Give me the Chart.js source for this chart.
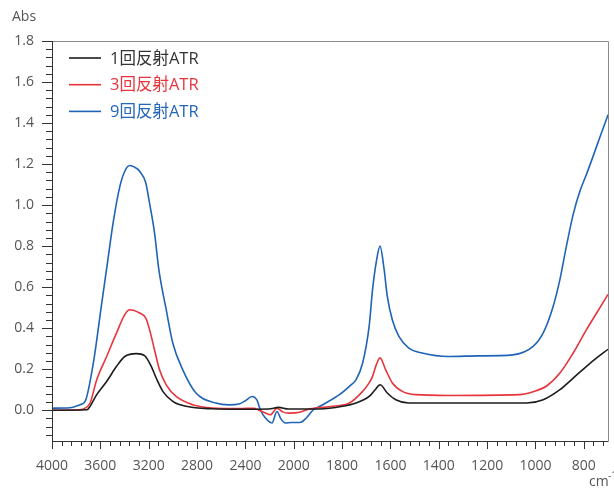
<!DOCTYPE html>
<html>
<head>
<meta charset="utf-8">
<script src="https://cdn.jsdelivr.net/npm/chart.js@4"></script>
<style>
  body { margin: 0; background: #fff; }
  canvas { display: block; }
</style>
</head>
<body>
<canvas id="chart" width="614" height="488"></canvas>
<script>
// IR spectra, absorbance vs wavenumber (cm-1), scale doubles below 2000

const seriesNames = ['1回反射ATR', '3回反射ATR', '9回反射ATR'];
const seriesColors = ['#1c1c1c', '#e8353c', '#1f64b6'];
const labelColors = ['#333333', '#e8353c', '#2466b8'];

const wnBlack = [4000, 3710, 3685, 3630, 3548, 3466, 3398, 3302, 3234, 3179, 3138, 3083, 3001, 2891, 2675, 2453,
  2207, 2125, 2043, 1893, 1798, 1742, 1688, 1663, 1643, 1613, 1578, 1524, 1359, 1037, 968, 899, 844, 789, 747, 700];
const absBlack = [0.0, 0.002, 0.019, 0.076, 0.14, 0.214, 0.262, 0.276, 0.266, 0.214, 0.157, 0.092, 0.043, 0.019, 0.007, 0.005,
  0.006, 0.014, 0.006, 0.006, 0.019, 0.035, 0.067, 0.1, 0.124, 0.084, 0.051, 0.035, 0.035, 0.035, 0.051, 0.1, 0.157, 0.214, 0.255, 0.297];

const wnRed = [4000, 3768, 3726, 3685, 3630, 3548, 3466, 3398, 3357, 3275, 3225, 3193, 3152, 3111, 3055, 2973, 2837, 2673, 2453,
  2330, 2289, 2240, 2193, 2139, 2092, 2043, 1975, 1934, 1838, 1770, 1715, 1688, 1674, 1659, 1643, 1620, 1592, 1551, 1496, 1359,
  1065, 1010, 954, 899, 844, 789, 747, 700];
const absRed = [0.0, 0.002, 0.01, 0.035, 0.149, 0.262, 0.377, 0.466, 0.49, 0.474, 0.45, 0.393, 0.295, 0.198, 0.124, 0.067, 0.027, 0.011, 0.008,
  0.01, 0.0, -0.012, -0.022, 0.01, -0.008, -0.014, -0.01, 0.006, 0.019, 0.035, 0.092, 0.133, 0.165, 0.22, 0.255, 0.198, 0.133, 0.092, 0.076, 0.072,
  0.076, 0.09, 0.118, 0.181, 0.279, 0.393, 0.474, 0.565];

const wnBlue = [4000, 3850, 3768, 3726, 3658, 3589, 3548, 3494, 3439, 3398, 3357, 3316, 3275, 3225, 3193, 3152, 3116, 3055, 3001,
  2919, 2809, 2645, 2535, 2453, 2404, 2344, 2305, 2275, 2234, 2180, 2139, 2108, 2070, 2018, 1975, 1948, 1921, 1880, 1811, 1763,
  1742, 1715, 1688, 1674, 1659, 1643, 1626, 1613, 1592, 1565, 1524, 1469, 1359, 1236, 1094, 1010, 968, 927, 899, 872, 844, 817,
  789, 761, 734, 706, 700];
const absBlue = [0.01, 0.012, 0.027, 0.043, 0.23, 0.52, 0.69, 0.915, 1.09, 1.165, 1.193, 1.185, 1.165, 1.11, 1.01, 0.866, 0.685, 0.49, 0.328,
  0.198, 0.084, 0.035, 0.026, 0.03, 0.045, 0.067, 0.05, 0.0, -0.038, -0.062, -0.006, -0.04, -0.062, -0.06, -0.06, -0.038, 0.0, 0.027, 0.076, 0.124,
  0.149, 0.23, 0.41, 0.588, 0.72, 0.80, 0.685, 0.555, 0.44, 0.36, 0.303, 0.279, 0.262, 0.265, 0.27, 0.311, 0.377, 0.506, 0.637, 0.80, 0.955, 1.065,
  1.15, 1.24, 1.33, 1.42, 1.44];

const xTickLabels = [4000, 3600, 3200, 2800, 2400, 2000, 1800, 1600, 1400, 1200, 1000, 800];
const yTickLabels = [0.0, 0.2, 0.4, 0.6, 0.8, 1.0, 1.2, 1.4, 1.6, 1.8];

// 400 cm-1 per unit above 2000, 200 cm-1 per unit below
function toAxis(w) {
  return w >= 2000 ? (4000 - w) / 400 : 5 + (2000 - w) / 200;
}

function points(wn, abs) {
  return wn.map((w, i) => ({ x: toAxis(w), y: abs[i] }));
}

const tickFont = { family: 'Open Sans', size: 14 };

const framePlugin = {
  id: 'frame',
  afterDraw(chart) {
    const ctx = chart.ctx;
    const a = chart.chartArea;
    const xs = chart.scales.x, ys = chart.scales.y;
    ctx.save();
    // top and right frame
    ctx.strokeStyle = '#8a8a8a';
    ctx.lineWidth = 1;
    ctx.beginPath();
    ctx.moveTo(a.left, a.top + 0.5);
    ctx.lineTo(a.right + 0.5, a.top + 0.5);
    ctx.lineTo(a.right + 0.5, a.bottom);
    ctx.stroke();

    // axes and tick marks
    ctx.strokeStyle = '#333';
    ctx.beginPath();
    ctx.moveTo(a.left + 0.5, a.top);
    ctx.lineTo(a.left + 0.5, a.bottom + 0.5);
    ctx.lineTo(a.right + 0.5, a.bottom + 0.5);
    for (let k = -3; k <= 45; k++) {
      const v = k * 0.04;
      const y = Math.round(ys.getPixelForValue(v)) + 0.5;
      const len = k % 5 === 0 ? 10 : 6;
      ctx.moveTo(a.left, y);
      ctx.lineTo(a.left - len, y);
    }
    for (let w = 4000; w >= 700; w -= (w > 2000 ? 80 : 40)) {
      const x = Math.round(xs.getPixelForValue(toAxis(w))) + 0.5;
      const len = xTickLabels.includes(w) ? 8 : 5;
      ctx.moveTo(x, a.bottom);
      ctx.lineTo(x, a.bottom + len);
    }
    ctx.stroke();

    // axis titles
    ctx.fillStyle = '#555';
    ctx.font = '14px "Open Sans"';
    ctx.textBaseline = 'middle';
    ctx.textAlign = 'left';
    ctx.fillText('Abs', 12, 17);
    ctx.fillText('cm', 589, 482);
    ctx.font = '10px "Open Sans"';
    ctx.fillText('-1', 608, 476);

    // legend
    ctx.font = '16.5px "Open Sans", "Noto Sans CJK JP"';
    chart.data.datasets.forEach((ds, i) => {
      const y = 58 + i * 26.7;
      ctx.strokeStyle = ds.borderColor;
      ctx.lineWidth = 1.6;
      ctx.beginPath();
      ctx.moveTo(69, y);
      ctx.lineTo(101, y);
      ctx.stroke();
      ctx.fillStyle = labelColors[i];
      ctx.fillText(ds.label, 110, y + 1);
    });
    ctx.restore();
  }
};

const series = [points(wnBlack, absBlack), points(wnRed, absRed), points(wnBlue, absBlue)];

new Chart(document.getElementById('chart').getContext('2d'), {
  type: 'line',
  data: {
    datasets: series.map((d, i) => ({
      label: seriesNames[i],
      data: d,
      borderColor: seriesColors[i],
      borderWidth: 1.6,
      pointRadius: 0,
      fill: false,
      cubicInterpolationMode: 'monotone'
    }))
  },
  options: {
    responsive: false,
    animation: false,
    devicePixelRatio: 1,
    layout: { padding: { left: 0, top: 41, right: 6, bottom: 0 } },
    plugins: { legend: { display: false }, tooltip: { enabled: false } },
    scales: {
      x: {
        type: 'linear',
        min: 0,
        max: toAxis(700),
        grid: { display: false, drawTicks: false },
        border: { display: false },
        afterFit(s) { s.height = 47; },
        afterBuildTicks(s) { s.ticks = xTickLabels.map(w => ({ value: toAxis(w) })); },
        ticks: {
          autoSkip: false,
          maxRotation: 0,
          padding: 17,
          color: '#555',
          font: tickFont,
          callback: (v, i) => xTickLabels[i]
        }
      },
      y: {
        min: -0.15,
        max: 1.8,
        grid: { display: false, drawTicks: false },
        border: { display: false },
        afterFit(s) { s.width = 52; },
        afterBuildTicks(s) { s.ticks = yTickLabels.map(v => ({ value: v })); },
        ticks: {
          padding: 18,
          color: '#555',
          font: tickFont,
          callback: v => v.toFixed(1)
        }
      }
    }
  },
  plugins: [framePlugin]
});
</script>
</body>
</html>
